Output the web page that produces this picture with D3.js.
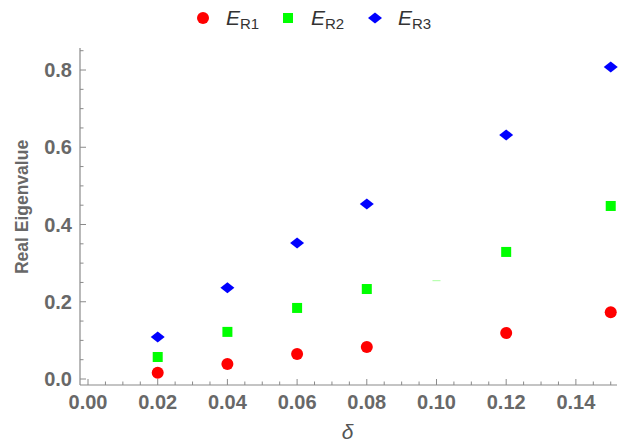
<!DOCTYPE html>
<html><head><meta charset="utf-8">
<script src="https://cdn.jsdelivr.net/npm/d3@7"></script>
<style>body{margin:0;background:#fff}svg{display:block}</style>
</head><body>
<svg id="chart" width="623" height="444"></svg>
<script>
const deltas = [0.02, 0.04, 0.06, 0.08, 0.12, 0.15];
const eR1 = [0.016, 0.039, 0.065, 0.083, 0.119, 0.173];
const eR2 = [0.057, 0.122, 0.184, 0.233, 0.329, 0.448];
const eR3 = [0.109, 0.236, 0.352, 0.453, 0.632, 0.808];
const strayX = [0.10];
const strayY = [0.255];
const xTicks = [0.00, 0.02, 0.04, 0.06, 0.08, 0.10, 0.12, 0.14];
const yTicks = [0.0, 0.2, 0.4, 0.6, 0.8];
const seriesNames = ["R1", "R2", "R3"];
const seriesColors = ["#ff0000", "#00ff00", "#0000ff"];
const seriesShapes = ["circle", "square", "diamond"];

const svg = d3.select("#chart");
const x = d3.scaleLinear().domain([-0.0023, 0.1518]).range([80, 617]);
const y = d3.scaleLinear().domain([-0.0155, 0.857]).range([385, 48]);
const axisColor = "#8a8a8a";
const labelColor = "#686868";

const xMinor = d3.range(0, 0.1501, 0.005);
const yMinor = d3.range(0, 0.8501, 0.05);

const gx = svg.append("g").attr("transform", "translate(0,385)");
gx.append("line").attr("x1", 80).attr("x2", 617).attr("stroke", axisColor).attr("stroke-width", 1.2);
gx.selectAll("line.minor").data(xMinor).enter().append("line")
  .attr("x1", d => x(d)).attr("x2", d => x(d))
  .attr("y1", 0).attr("y2", d => (Math.abs(Math.round(d / 0.02) * 0.02 - d) < 1e-6) ? -6 : -3.5)
  .attr("stroke", axisColor).attr("stroke-width", 1);
gx.selectAll("text").data(xTicks).enter().append("text")
  .attr("x", d => x(d)).attr("y", 24)
  .attr("text-anchor", "middle")
  .attr("font-family", "Liberation Sans, Arial, sans-serif")
  .attr("font-size", 20).attr("font-weight", "bold")
  .attr("fill", labelColor)
  .text(d => d.toFixed(2));

const gy = svg.append("g").attr("transform", "translate(80,0)");
gy.append("line").attr("y1", 48).attr("y2", 385).attr("stroke", axisColor).attr("stroke-width", 1.2);
gy.selectAll("line.minor").data(yMinor).enter().append("line")
  .attr("y1", d => y(d)).attr("y2", d => y(d))
  .attr("x1", 0).attr("x2", d => (Math.abs(Math.round(d / 0.2) * 0.2 - d) < 1e-6) ? 6 : 3.5)
  .attr("stroke", axisColor).attr("stroke-width", 1);
gy.selectAll("text").data(yTicks).enter().append("text")
  .attr("x", -8).attr("y", d => y(d) + 7)
  .attr("text-anchor", "end")
  .attr("font-family", "Liberation Sans, Arial, sans-serif")
  .attr("font-size", 20).attr("font-weight", "bold")
  .attr("fill", labelColor)
  .text(d => d.toFixed(1));

svg.append("text")
  .attr("transform", "translate(28,207) rotate(-90)")
  .attr("text-anchor", "middle")
  .attr("font-family", "Liberation Sans, Arial, sans-serif")
  .attr("font-size", 17.5).attr("font-weight", "bold")
  .attr("fill", labelColor)
  .text("Real Eigenvalue");
svg.append("text")
  .attr("x", x(0.0745)).attr("y", 439)
  .attr("text-anchor", "middle")
  .attr("font-family", "Liberation Sans, Arial, sans-serif")
  .attr("font-size", 21).attr("font-style", "italic")
  .attr("fill", "#555")
  .text("δ");

function drawMarker(g, shape, color, cx, cy) {
  if (shape === "circle") {
    g.append("circle").attr("cx", cx).attr("cy", cy).attr("r", 6).attr("fill", color);
  } else if (shape === "square") {
    g.append("rect").attr("x", cx - 5).attr("y", cy - 5).attr("width", 10).attr("height", 10).attr("fill", color);
  } else {
    g.append("path").attr("d", `M${cx - 7},${cy}L${cx},${cy - 5.5}L${cx + 7},${cy}L${cx},${cy + 5.5}Z`).attr("fill", color);
  }
}

const series = [eR1, eR2, eR3];
const gp = svg.append("g");
series.forEach((vals, i) => {
  vals.forEach((v, j) => drawMarker(gp, seriesShapes[i], seriesColors[i], x(deltas[j]), y(v)));
});
gp.selectAll("rect.stray").data(strayX).enter().append("rect")
  .attr("x", (d) => x(d) - 4).attr("y", (d, i) => y(strayY[i]) - 0.5)
  .attr("width", 8).attr("height", 1.2).attr("fill", "#b8ffb0");

const legendX = [203, 288, 375];
const lg = svg.append("g");
seriesNames.forEach((name, i) => {
  drawMarker(lg, seriesShapes[i], seriesColors[i], legendX[i], 18);
  const t = lg.append("text")
    .attr("x", legendX[i] + 23).attr("y", 25)
    .attr("font-family", "Liberation Sans, Arial, sans-serif")
    .attr("fill", "#333");
  t.append("tspan").attr("font-size", 21).attr("font-style", "italic").text("E");
  t.append("tspan").attr("font-size", 15).attr("dy", 4).text(name);
});
</script>
</body></html>
